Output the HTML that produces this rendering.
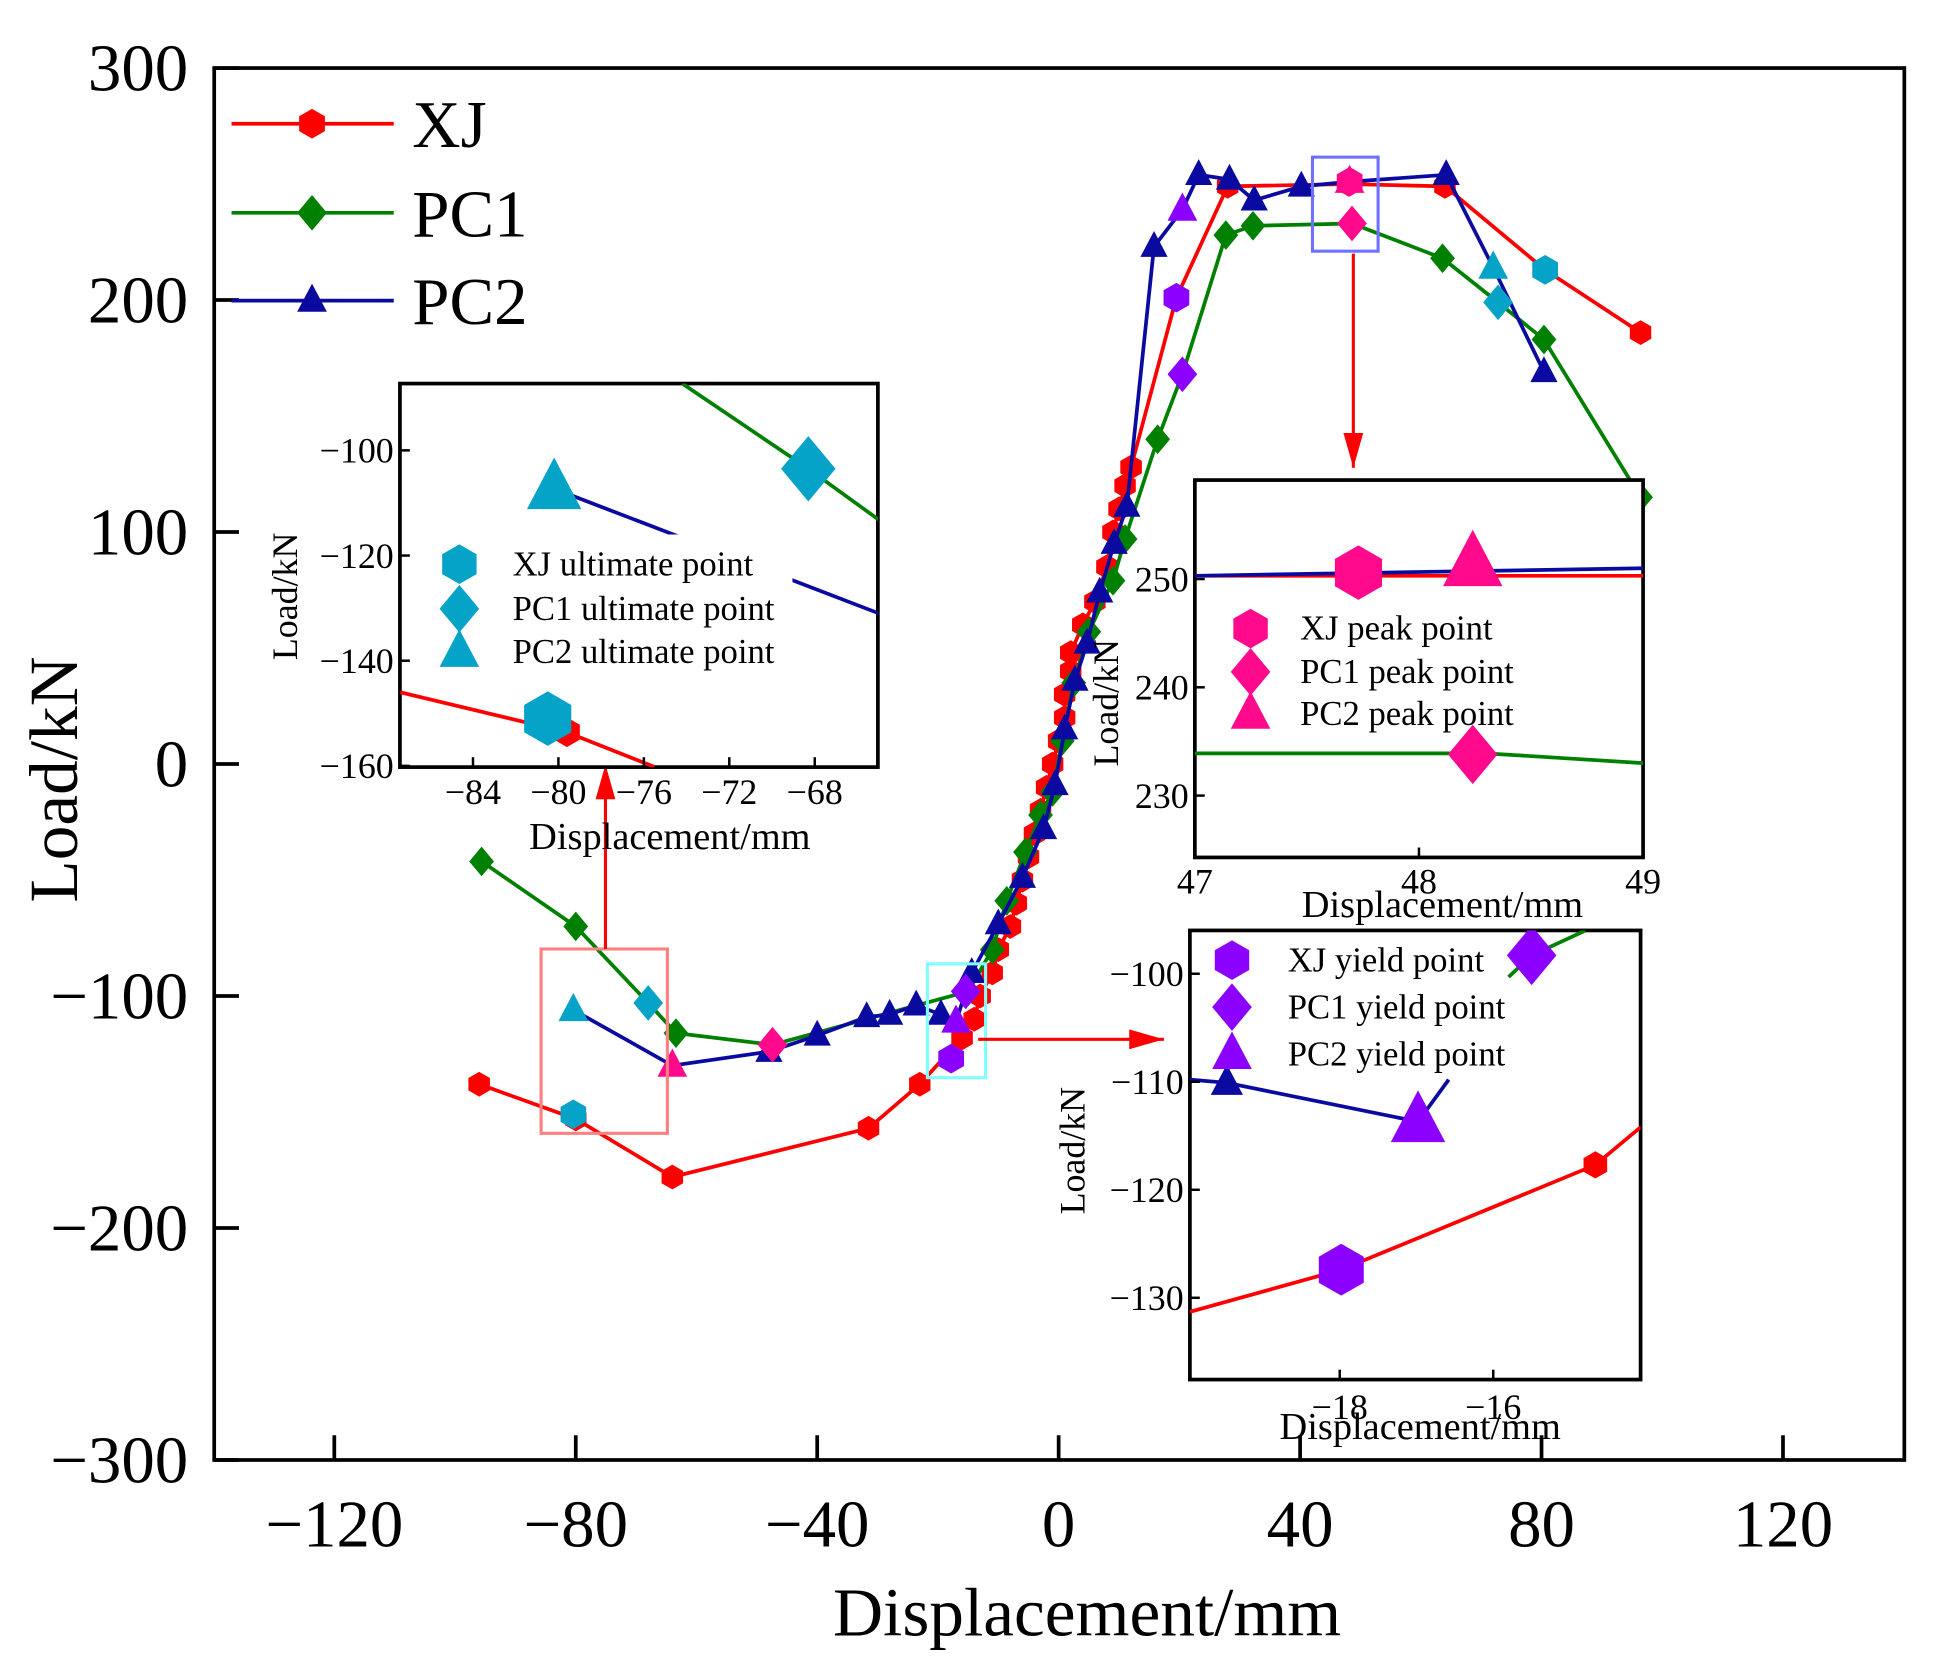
<!DOCTYPE html>
<html><head><meta charset="utf-8"><style>
html,body{margin:0;padding:0;background:#fff}
svg{display:block}
text{font-family:"Liberation Serif",serif;fill:#000}
</style></head><body>
<svg id="chart" width="1939" height="1666" viewBox="0 0 1566 1346.5" preserveAspectRatio="none" xmlns="http://www.w3.org/2000/svg"></svg>
<script>
// ===== main chart data =====
const xTicks = [-120,-80,-40,0,40,80,120];
const yTicks = [300,200,100,0,-100,-200,-300];
const xjX = [-96,-80,-64,-31.5,-23,-16,-14,-13,-11,-10,-8,-7,-6,-5,-4,-3,-2,-1,0,1,1,2,2,4,6,8,9,10,11,12,19.5,28,48,64,80.6,96.4];
const xjY = [-138,-153,-178,-157,-138,-118,-110,-100,-90,-80,-70,-60,-50,-40,-30,-20,-10,0,10,20,30,40,48,60,70,85,100,110,120,128,201,249,250,249,213,186];
const pc1X = [-95.6,-80,-68,-63.4,-47.4,-15,-11,-8.6,-5.5,-3,-1,0.6,2.5,5,9,11,16.4,20.5,27.7,32.2,48.6,63.6,72.8,80.4,96.4];
const pc1Y = [-42,-70,-103,-116,-121,-98,-80,-59,-38,-22,-12,10,35,57,79,97,140,168,228,232,233,218,199,183,115];
const pc2X = [-80.4,-64,-48,-40,-31.8,-28,-23.6,-19.5,-17,-14.4,-10,-6,-2.5,-0.6,1,2.7,4.7,6.8,9.2,11.3,15.8,20.5,23.2,28.3,32.4,40.2,48.2,64.2,72,80.4];
const pc2Y = [-106,-130,-124,-117,-109,-108,-104,-108,-111,-90,-69,-49,-28,-9,15,36,52,74,95,111,223,239,254,252,243,249,251,254,214,169];
const ultX = [-80.4,80.6,-68,72.8,-80.4,72];
const ultY = [-151,213,-103,199,-106,214];
const ultShape = ['hex','hex','dia','dia','tri','tri'];
const yldX = [-17.8,19.5,-15.4,20.5,-17,20.5];
const yldY = [-127,201,-98,168,-111,239];
const yldShape = ['hex','hex','dia','dia','tri','tri'];
const pkX = [48.2,48.6,-47.4,48.2,-64];
const pkY = [251,233,-121,251,-130];
const pkShape = ['hex','dia','dia','tri','tri'];

// ===== inset data =====
const in1Ticks = [-84,-80,-76,-72,-68];
const in1YTicks = [-100,-120,-140,-160];
const in1GreenX = [-74.2,-68.3,-65], in1GreenY = [-87.3,-103.5,-113.2];
const in1BlueX = [-80.2,-65], in1BlueY = [-107.3,-131];
const in1RedX = [-87.4,-79.6,-75.5], in1RedY = [-146,-153.6,-160.2];
const in2Ticks = [47,48,49];
const in2YTicks = [250,240,230];
const in2RedX = [47,49], in2RedY = [250.3,250.3];
const in2BlueX = [47,49], in2BlueY = [250.3,251.0];
const in2GreenX = [47,48.3,49], in2GreenY = [233.9,233.9,233.0];
const in3Ticks = [-18,-16];
const in3YTicks = [-100,-110,-120,-130];
const in3GreenX = [-15.8,-15.5,-14.8], in3GreenY = [-100.3,-98.3,-96];
const in3BlueX = [-19.95,-19.47,-16.98,-16.58], in3BlueY = [-109.8,-110.1,-113.7,-109.8];
const in3RedX = [-19.95,-17.98,-14.67,-14.08], in3RedY = [-131.3,-127.4,-117.7,-114.2];

const NS='http://www.w3.org/2000/svg';
const svg=document.getElementById('chart');
function el(tag,attrs,parent){const e=document.createElementNS(NS,tag);for(const k in attrs)e.setAttribute(k,attrs[k]);(parent||svg).appendChild(e);return e;}
function marker(shape,cx,cy,r,color,parent){
  let e;
  if(shape==='hex'){let p=[];for(let i=0;i<6;i++){const a=Math.PI/180*(60*i-90);p.push((cx+r*Math.cos(a)).toFixed(1)+','+(cy+r*Math.sin(a)).toFixed(1));}
    e=el('polygon',{points:p.join(' '),fill:color},parent);}
  else if(shape==='dia'){e=el('polygon',{points:`${cx},${cy-r*1.2} ${cx+r},${cy} ${cx},${cy+r*1.2} ${cx-r},${cy}`,fill:color},parent);}
  else {e=el('polygon',{points:`${cx},${cy-r*1.15} ${cx+r},${cy+r*0.75} ${cx-r},${cy+r*0.75}`,fill:color},parent);}
  return e;
}
const C={red:'#ff0000',green:'#008000',blue:'#0a0aa0',cyan:'#05a3c8',purple:'#8c00ff',pink:'#ff0a8c'};

const X=v=>855+v*4.875, Y=v=>617.5-v*1.875;
const frame=el('rect',{x:173,y:55,width:1365,height:1125,fill:'none',stroke:'#000','stroke-width':3});


xTicks.forEach(t=>{
  el('line',{x1:X(t),x2:X(t),y1:1180,y2:1160,stroke:'#000','stroke-width':3});
  const tx=el('text',{x:X(t),y:1250,'font-size':54,'text-anchor':'middle'});tx.textContent=String(t).replace('-','\u2212');
  
  
});
yTicks.forEach(t=>{
  el('line',{x1:173,x2:193,y1:Y(t),y2:Y(t),stroke:'#000','stroke-width':3});
  const tx=el('text',{x:152,y:Y(t)+18,'font-size':54,'text-anchor':'end'});tx.textContent=String(t).replace('-','\u2212');
  
  
});
let xt=el('text',{x:878,y:1322,'font-size':56,'text-anchor':'middle'});xt.textContent='Displacement/mm';


let yt=el('text',{x:62,y:630,'font-size':56,'text-anchor':'middle',transform:'rotate(-90 62 630)'});yt.textContent='Load/kN';



function series(xs,ys,color,shape,name,r,fx,fy,parent){
  const g=el('g',{},parent);
  
  
  el('polyline',{points:xs.map((x,i)=>fx(x)+','+fy(ys[i])).join(' '),fill:'none',stroke:color,'stroke-width':3},g);
  if(shape) xs.forEach((x,i)=>marker(shape,fx(x),fy(ys[i]),r,color,g));
  return g;
}
series(xjX,xjY,C.red,'hex','series-xj',10,X,Y);
series(pc1X,pc1Y,C.green,'dia','series-pc1',10,X,Y);
series(pc2X,pc2Y,C.blue,'tri','series-pc2',11,X,Y);
ultX.forEach((x,i)=>{const m=marker(ultShape[i],X(x),Y(ultY[i]),12,C.cyan);});
yldX.forEach((x,i)=>{const m=marker(yldShape[i],X(x),Y(yldY[i]),12,C.purple);});
pkX.forEach((x,i)=>{const m=marker(pkShape[i],X(x),Y(pkY[i]),12,C.pink);});

[['XJ',C.red,'hex',100],['PC1',C.green,'dia',172],['PC2',C.blue,'tri',243]].forEach(([lab,c,s,y])=>{
  const g=el('g',{});
  
  
  el('line',{x1:187,x2:318,y1:y,y2:y,stroke:c,'stroke-width':3},g);
  marker(s,252,y,12,c,g);
  const t=el('text',{x:333,y:y+19,'font-size':54},g);t.textContent=lab;
});

el('rect',{x:437,y:767,width:102,height:149,fill:'none',stroke:'#ff8080','stroke-width':2.5});
el('rect',{x:749,y:779,width:47,height:92,fill:'none',stroke:'#80ffff','stroke-width':2.5});
el('rect',{x:1060,y:127,width:53,height:76,fill:'none',stroke:'#7070ff','stroke-width':2.5});
function arrow(x1,y1,x2,y2){el('line',{x1,y1,x2,y2,stroke:C.red,'stroke-width':2.5});
  const a=Math.atan2(y2-y1,x2-x1),L=28,W=8;
  const bx=x2-L*Math.cos(a),by=y2-L*Math.sin(a);
  el('polygon',{points:`${x2},${y2} ${bx+W*Math.sin(a)},${by-W*Math.cos(a)} ${bx-W*Math.sin(a)},${by+W*Math.cos(a)}`,fill:C.red});}
arrow(489,767,489,618);
arrow(790,840,940,840);
arrow(1093,205,1093,378);

function inset(name,bx,by,bw,bh,fx,fy,xt,yt,yLabX,yLabY,xLabX,xLabY,xLabelY){
  const g=el('g',{});
  
  
  el('rect',{x:bx,y:by,width:bw,height:bh,fill:'#fff',stroke:'#000','stroke-width':3},g);
  const cid=name+'-clip';const cp=el('clipPath',{id:cid},g);el('rect',{x:bx,y:by,width:bw,height:bh},cp);
  const inner=el('g',{'clip-path':`url(#${cid})`},g);
  xt.forEach(t=>{el('line',{x1:fx(t),x2:fx(t),y1:by+bh,y2:by+bh-8,stroke:'#000','stroke-width':2},g);
    const tx=el('text',{x:fx(t),y:xLabelY,'font-size':29,'text-anchor':'middle'},g);tx.textContent=String(t).replace('-','\u2212');});
  yt.forEach(t=>{el('line',{x1:bx,x2:bx+8,y1:fy(t),y2:fy(t),stroke:'#000','stroke-width':2},g);
    const tx=el('text',{x:bx-5,y:fy(t)+10,'font-size':29,'text-anchor':'end'},g);tx.textContent=String(t).replace('-','\u2212');});
  const yl=el('text',{x:yLabX,y:yLabY,'font-size':29,'text-anchor':'middle',transform:`rotate(-90 ${yLabX} ${yLabY})`},g);yl.textContent='Load/kN';
  const xl=el('text',{x:xLabX,y:xLabY,'font-size':31,'text-anchor':'middle'},g);xl.textContent='Displacement/mm';
  return inner;
}
function legend3(parent,mx,tx,ys,color,labels){
  ['hex','dia','tri'].forEach((s,i)=>{marker(s,mx,ys[i],16,color,parent);
    const t=el('text',{x:tx,y:ys[i]+9,'font-size':28},parent);t.textContent=labels[i];});
}
const f1x=v=>382+(v+84)*17.25, f1y=v=>364-(v+100)*4.25;
const g1=inset('inset-ultimate',323,310,386,310,f1x,f1y,in1Ticks,in1YTicks,240,482,541,686,650);
series(in1GreenX,in1GreenY,C.green,null,'inset1-pc1',0,f1x,f1y,g1);
series(in1BlueX,in1BlueY,C.blue,null,'inset1-pc2',0,f1x,f1y,g1);
series(in1RedX,in1RedY,C.red,null,'inset1-xj',0,f1x,f1y,g1);
marker('hex',f1x(-79.6),f1y(-153.6),12,C.red,g1);
marker('dia',f1x(-68.3),f1y(-103.5),22,C.cyan,g1);
marker('tri',f1x(-80.2),f1y(-107.3),22,C.cyan,g1);
marker('hex',f1x(-80.5),f1y(-151),22,C.cyan,g1);
el('rect',{x:350,y:432,width:290,height:110,fill:'#fff'},g1);
legend3(g1,371,414,[456,492,527],C.cyan,['XJ ultimate point','PC1 ultimate point','PC2 ultimate point']);
const f2x=v=>965+(v-47)*181, f2y=v=>468-(v-250)*8.75;
const g2=inset('inset-peak',965,388,362,305,f2x,f2y,in2Ticks,in2YTicks,903,568,1165,741,722);
series(in2RedX,in2RedY,C.red,null,'inset2-xj',0,f2x,f2y,g2);
series(in2BlueX,in2BlueY,C.blue,null,'inset2-pc2',0,f2x,f2y,g2);
series(in2GreenX,in2GreenY,C.green,null,'inset2-pc1',0,f2x,f2y,g2);
marker('hex',f2x(47.73),f2y(250.6),22,C.pink,g2);
marker('tri',f2x(48.24),f2y(251.4),24,C.pink,g2);
marker('dia',f2x(48.24),f2y(233.8),20,C.pink,g2);
legend3(g2,1010,1050,[508,543,577],C.pink,['XJ peak point','PC1 peak point','PC2 peak point']);
const f3x=v=>1082+(v+18)*62, f3y=v=>787-(v+100)*8.73;
const g3=inset('inset-yield',961,752,364,363,f3x,f3y,in3Ticks,in3YTicks,876,930,1147,1163,1147);
series(in3GreenX,in3GreenY,C.green,null,'inset3-pc1',0,f3x,f3y,g3);
series(in3BlueX,in3BlueY,C.blue,null,'inset3-pc2',0,f3x,f3y,g3);
series(in3RedX,in3RedY,C.red,null,'inset3-xj',0,f3x,f3y,g3);
marker('tri',f3x(-19.47),f3y(-110.1),13,C.blue,g3);
marker('hex',f3x(-14.67),f3y(-117.7),11,C.red,g3);
marker('dia',f3x(-15.5),f3y(-98.3),20,C.purple,g3);
marker('tri',f3x(-16.98),f3y(-113.7),22,C.purple,g3);
marker('hex',f3x(-17.98),f3y(-127.4),21,C.purple,g3);
legend3(g3,995,1040,[776,814,852],C.purple,['XJ yield point','PC1 yield point','PC2 yield point']);
</script>
</body></html>
